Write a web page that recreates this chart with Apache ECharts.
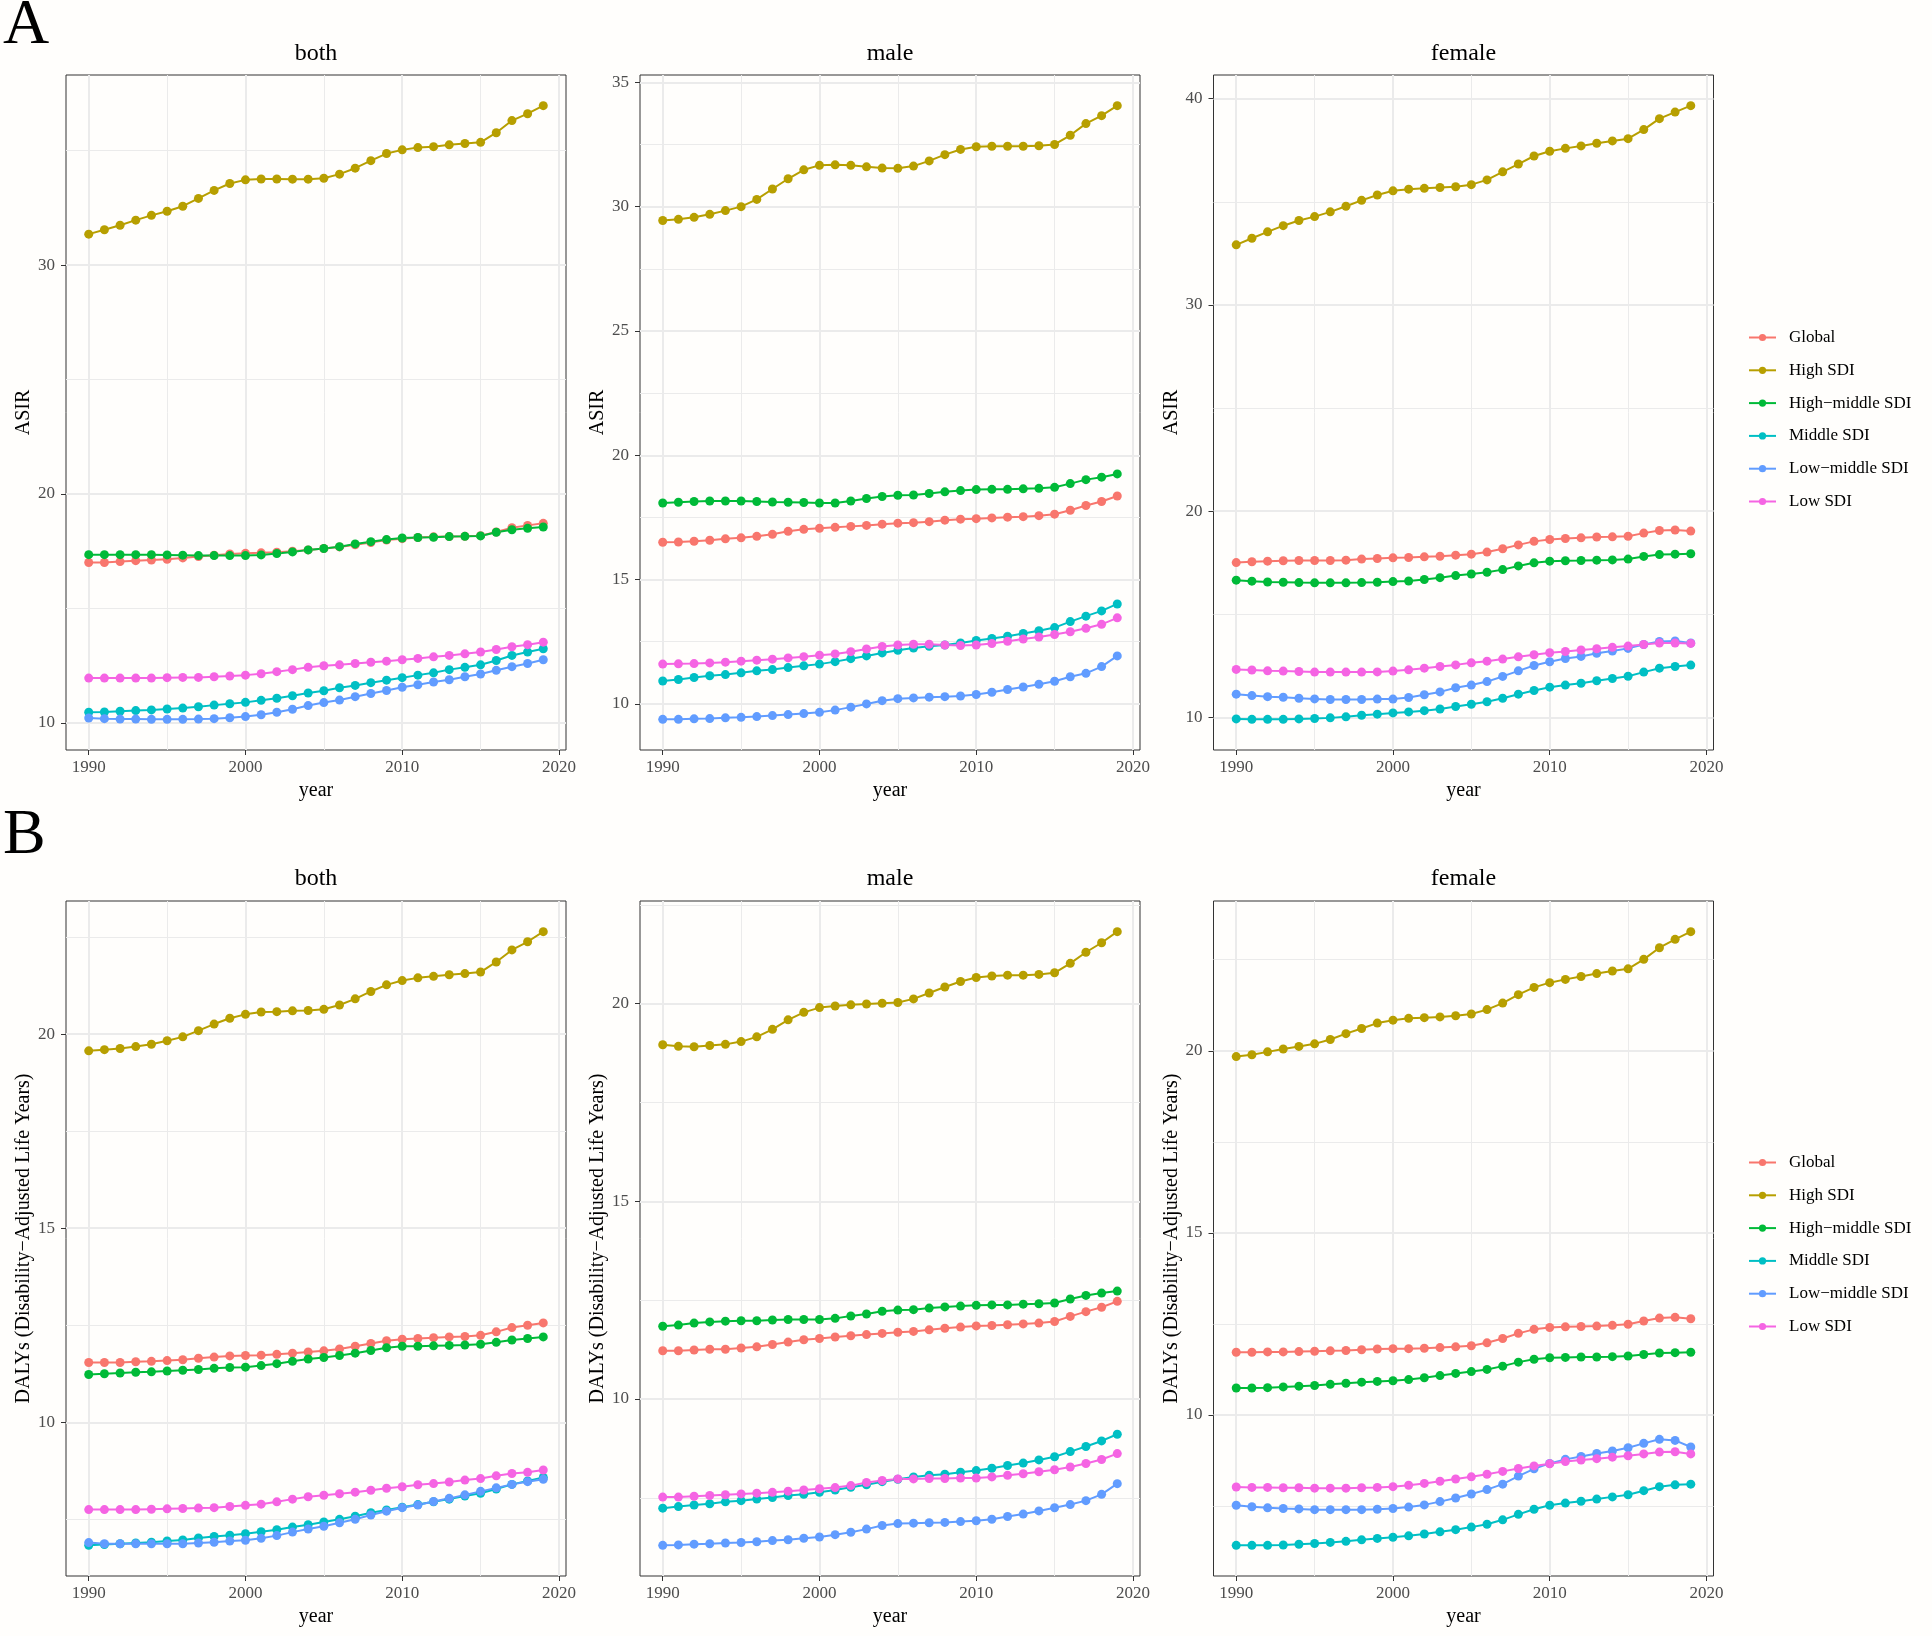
<!DOCTYPE html>
<html>
<head>
<meta charset="utf-8">
<script src="https://cdn.jsdelivr.net/npm/echarts@6/dist/echarts.min.js"></script>
<style>
html,body{margin:0;padding:0;background:#fffefc;}
#chart{width:1932px;height:1636px;}
</style>
</head>
<body>
<div id="chart"></div>
<script>
// ---------------- data ----------------
const years = [1990,1991,1992,1993,1994,1995,1996,1997,1998,1999,2000,2001,2002,2003,2004,2005,2006,2007,2008,2009,2010,2011,2012,2013,2014,2015,2016,2017,2018,2019];
const seriesNames = ['Global','High SDI','High\u2212middle SDI','Middle SDI','Low\u2212middle SDI','Low SDI'];
const panelTitles = ['both','male','female'];
const asirTitle = 'ASIR';
const dalyTitle = 'DALYs (Disability\u2212Adjusted Life Years)';
const xTicks = [1990,2000,2010,2020];
const xMinor = [1995,2005,2015];

// ASIR - both
const asirBothGlobal  = [17.01,17.01,17.05,17.09,17.12,17.15,17.21,17.27,17.33,17.38,17.41,17.43,17.46,17.50,17.56,17.62,17.69,17.78,17.88,17.99,18.05,18.10,18.13,18.14,18.15,18.18,18.34,18.53,18.63,18.72];
const asirBothHigh    = [31.35,31.54,31.74,31.96,32.17,32.35,32.57,32.91,33.26,33.56,33.72,33.76,33.76,33.75,33.75,33.79,33.97,34.23,34.56,34.87,35.03,35.13,35.17,35.25,35.31,35.36,35.78,36.31,36.61,36.96];
const asirBothHighMid = [17.35,17.35,17.35,17.35,17.35,17.34,17.33,17.31,17.31,17.31,17.31,17.34,17.40,17.47,17.56,17.62,17.70,17.82,17.92,18.01,18.08,18.10,18.11,18.14,18.15,18.17,18.33,18.44,18.50,18.56];
const asirBothMid     = [10.47,10.48,10.51,10.54,10.57,10.61,10.65,10.71,10.78,10.84,10.90,10.99,11.08,11.19,11.31,11.41,11.54,11.64,11.76,11.87,11.98,12.09,12.19,12.33,12.43,12.54,12.73,12.95,13.10,13.24];
const asirBothLowMid  = [10.22,10.19,10.17,10.17,10.16,10.16,10.16,10.17,10.19,10.23,10.28,10.36,10.47,10.60,10.76,10.89,11.00,11.15,11.29,11.42,11.56,11.67,11.79,11.89,12.02,12.14,12.30,12.46,12.60,12.76];
const asirBothLow     = [11.96,11.96,11.96,11.96,11.96,11.98,11.99,11.99,12.02,12.05,12.09,12.15,12.24,12.33,12.43,12.50,12.54,12.60,12.65,12.70,12.76,12.82,12.89,12.95,13.02,13.10,13.21,13.33,13.42,13.53];
// ASIR - male
const asirMaleGlobal  = [16.50,16.51,16.54,16.58,16.64,16.68,16.74,16.82,16.94,17.02,17.06,17.10,17.14,17.18,17.23,17.27,17.29,17.33,17.39,17.43,17.45,17.48,17.51,17.53,17.57,17.63,17.79,17.98,18.14,18.36];
const asirMaleHigh    = [29.44,29.49,29.57,29.69,29.84,30.00,30.29,30.71,31.12,31.48,31.66,31.68,31.66,31.60,31.55,31.54,31.63,31.84,32.09,32.30,32.41,32.43,32.43,32.43,32.45,32.50,32.87,33.34,33.66,34.06];
const asirMaleHighMid = [18.08,18.11,18.14,18.16,18.16,18.16,18.14,18.12,18.11,18.10,18.08,18.08,18.16,18.26,18.34,18.39,18.40,18.46,18.53,18.58,18.62,18.63,18.63,18.65,18.67,18.71,18.86,19.02,19.12,19.25];
const asirMaleMid     = [10.92,10.98,11.06,11.13,11.18,11.25,11.33,11.38,11.46,11.53,11.60,11.70,11.82,11.93,12.05,12.16,12.25,12.32,12.37,12.45,12.55,12.63,12.72,12.83,12.94,13.07,13.31,13.53,13.74,14.02];
const asirMaleLowMid  = [9.38,9.38,9.40,9.41,9.44,9.46,9.49,9.53,9.57,9.61,9.66,9.75,9.87,10.00,10.13,10.21,10.24,10.27,10.29,10.32,10.38,10.47,10.58,10.68,10.79,10.91,11.09,11.23,11.50,11.93];
const asirMaleLow     = [11.60,11.61,11.62,11.65,11.68,11.72,11.76,11.80,11.85,11.90,11.96,12.01,12.10,12.21,12.31,12.37,12.40,12.40,12.37,12.35,12.37,12.43,12.52,12.61,12.69,12.79,12.90,13.04,13.20,13.46];
// ASIR - female
const asirFemGlobal   = [17.50,17.54,17.57,17.59,17.60,17.60,17.60,17.62,17.67,17.70,17.73,17.75,17.78,17.81,17.86,17.91,18.01,18.17,18.36,18.53,18.62,18.67,18.70,18.74,18.75,18.78,18.93,19.06,19.08,19.03];
const asirFemHigh     = [32.91,33.23,33.54,33.84,34.09,34.28,34.51,34.78,35.07,35.33,35.53,35.61,35.65,35.69,35.73,35.83,36.06,36.45,36.83,37.22,37.45,37.59,37.71,37.84,37.95,38.06,38.50,39.03,39.35,39.66];
const asirFemHighMid  = [16.65,16.60,16.56,16.55,16.53,16.52,16.52,16.52,16.53,16.55,16.58,16.61,16.68,16.77,16.87,16.95,17.03,17.16,17.34,17.49,17.57,17.59,17.60,17.62,17.63,17.67,17.80,17.89,17.91,17.93];
const asirFemMid      = [9.92,9.90,9.90,9.90,9.92,9.94,9.97,10.02,10.10,10.15,10.21,10.26,10.32,10.40,10.52,10.63,10.75,10.92,11.12,11.30,11.46,11.56,11.65,11.77,11.88,11.99,12.19,12.38,12.46,12.53];
const asirFemLowMid   = [11.12,11.05,11.00,10.97,10.92,10.89,10.86,10.86,10.86,10.88,10.88,10.96,11.09,11.23,11.43,11.56,11.73,11.98,12.25,12.51,12.69,12.85,12.95,13.10,13.21,13.34,13.53,13.68,13.70,13.60];
const asirFemLow      = [12.32,12.29,12.25,12.24,12.22,12.19,12.19,12.19,12.19,12.20,12.24,12.30,12.38,12.46,12.54,12.64,12.72,12.82,12.93,13.03,13.13,13.19,13.26,13.32,13.39,13.45,13.53,13.60,13.60,13.58];

// DALYs - both
const dalyBothGlobal  = [11.54,11.54,11.54,11.56,11.57,11.59,11.61,11.65,11.68,11.71,11.72,11.73,11.75,11.78,11.81,11.84,11.89,11.96,12.03,12.10,12.14,12.16,12.18,12.20,12.21,12.24,12.33,12.44,12.50,12.56];
const dalyBothHigh    = [19.57,19.60,19.63,19.68,19.74,19.83,19.93,20.09,20.26,20.41,20.51,20.57,20.58,20.60,20.61,20.64,20.75,20.91,21.10,21.27,21.38,21.45,21.49,21.53,21.56,21.60,21.86,22.17,22.38,22.64];
const dalyBothHighMid = [11.23,11.25,11.27,11.29,11.30,11.32,11.34,11.36,11.39,11.41,11.42,11.46,11.51,11.57,11.63,11.67,11.72,11.78,11.85,11.92,11.96,11.96,11.97,11.98,11.99,12.01,12.06,12.12,12.16,12.20];
const dalyBothMid     = [6.83,6.85,6.87,6.89,6.91,6.94,6.97,7.02,7.06,7.09,7.13,7.18,7.23,7.30,7.36,7.43,7.50,7.58,7.67,7.74,7.81,7.88,7.95,8.02,8.10,8.17,8.28,8.40,8.49,8.58];
const dalyBothLowMid  = [6.90,6.87,6.87,6.87,6.87,6.87,6.87,6.89,6.91,6.94,6.96,7.01,7.08,7.17,7.25,7.32,7.41,7.50,7.61,7.71,7.80,7.87,7.96,8.04,8.13,8.22,8.31,8.40,8.47,8.53];
const dalyBothLow     = [7.75,7.75,7.75,7.75,7.76,7.77,7.78,7.79,7.80,7.83,7.86,7.89,7.95,8.02,8.08,8.12,8.16,8.20,8.25,8.30,8.34,8.39,8.42,8.46,8.51,8.55,8.62,8.68,8.71,8.77];
// DALYs - male
const dalyMaleGlobal  = [11.22,11.22,11.24,11.26,11.26,11.29,11.32,11.38,11.44,11.50,11.53,11.57,11.60,11.63,11.66,11.69,11.71,11.75,11.79,11.82,11.85,11.86,11.88,11.90,11.92,11.96,12.09,12.21,12.32,12.47];
const dalyMaleHigh    = [18.96,18.92,18.91,18.94,18.97,19.04,19.16,19.35,19.59,19.78,19.90,19.94,19.97,19.99,20.01,20.03,20.12,20.27,20.42,20.56,20.66,20.70,20.72,20.72,20.74,20.78,21.02,21.30,21.54,21.82];
const dalyMaleHighMid = [11.84,11.87,11.92,11.95,11.97,11.98,11.98,12.00,12.01,12.01,12.01,12.04,12.10,12.15,12.22,12.25,12.26,12.30,12.33,12.35,12.37,12.38,12.38,12.40,12.41,12.43,12.53,12.62,12.68,12.73];
const dalyMaleMid     = [7.24,7.28,7.32,7.35,7.40,7.43,7.47,7.51,7.56,7.59,7.64,7.70,7.77,7.83,7.91,7.97,8.03,8.07,8.10,8.15,8.19,8.25,8.32,8.38,8.46,8.54,8.67,8.80,8.94,9.11];
const dalyMaleLowMid  = [6.30,6.31,6.33,6.34,6.36,6.37,6.39,6.42,6.44,6.48,6.51,6.57,6.63,6.71,6.80,6.85,6.86,6.87,6.88,6.90,6.92,6.96,7.03,7.09,7.17,7.25,7.33,7.43,7.59,7.86];
const dalyMaleLow     = [7.52,7.52,7.54,7.56,7.58,7.60,7.62,7.64,7.67,7.70,7.73,7.76,7.81,7.89,7.94,7.98,7.98,7.99,7.99,8.00,8.00,8.03,8.07,8.11,8.16,8.21,8.28,8.37,8.47,8.62];
// DALYs - female
const dalyFemGlobal   = [11.72,11.72,11.73,11.73,11.74,11.75,11.76,11.77,11.79,11.81,11.82,11.82,11.83,11.85,11.87,11.90,11.98,12.10,12.24,12.35,12.40,12.42,12.43,12.44,12.46,12.49,12.58,12.66,12.68,12.64];
const dalyFemHigh     = [19.84,19.89,19.97,20.05,20.12,20.19,20.31,20.47,20.61,20.76,20.84,20.89,20.91,20.93,20.96,21.01,21.13,21.31,21.54,21.74,21.87,21.96,22.04,22.12,22.19,22.25,22.51,22.83,23.06,23.27];
const dalyFemHighMid  = [10.74,10.74,10.75,10.77,10.79,10.81,10.84,10.87,10.90,10.92,10.94,10.97,11.02,11.08,11.14,11.19,11.25,11.34,11.45,11.53,11.57,11.58,11.59,11.59,11.60,11.62,11.66,11.70,11.71,11.72];
const dalyFemMid      = [6.42,6.42,6.42,6.43,6.45,6.47,6.50,6.53,6.57,6.61,6.64,6.68,6.73,6.79,6.85,6.92,7.00,7.12,7.27,7.41,7.52,7.58,7.63,7.69,7.75,7.81,7.92,8.03,8.08,8.10];
const dalyFemLowMid   = [7.52,7.48,7.45,7.43,7.42,7.40,7.40,7.40,7.40,7.41,7.43,7.47,7.53,7.62,7.72,7.83,7.95,8.10,8.32,8.52,8.67,8.78,8.86,8.94,9.01,9.10,9.22,9.33,9.30,9.12];
const dalyFemLow      = [8.02,8.01,8.01,8.00,8.00,7.99,7.99,7.99,8.00,8.01,8.03,8.07,8.12,8.18,8.24,8.30,8.37,8.45,8.53,8.60,8.66,8.72,8.76,8.80,8.84,8.88,8.93,8.98,8.99,8.93];

// y tick labels per panel
const asirBothTicks = [10,20,30];   const asirBothMinor = [15,25,35];
const asirMaleTicks = [10,15,20,25,30,35]; const asirMaleMinor = [12.5,17.5,22.5,27.5,32.5];
const asirFemTicks  = [10,20,30,40]; const asirFemMinor = [15,25,35];
const dalyBothTicks = [10,15,20];   const dalyBothMinor = [7.5,12.5,17.5,22.5];
const dalyMaleTicks = [10,15,20];   const dalyMaleMinor = [7.5,12.5,17.5,22.5];
const dalyFemTicks  = [10,15,20];   const dalyFemMinor = [7.5,12.5,17.5,22.5];

// ---------------- layout & style ----------------
const colors = ['#F8766D','#B79F00','#00BA38','#00BFC4','#619CFF','#F564E3'];
const FONT = '"Liberation Serif","Times New Roman",serif';
const colLeft = [66, 640, 1213.5];
const plotW = 500;
const rowTop = [75, 901];
const plotH = 675;

const panels = [
  {row:0,col:0,yName:asirTitle,ticks:asirBothTicks,minor:asirBothMinor,data:[asirBothGlobal,asirBothHigh,asirBothHighMid,asirBothMid,asirBothLowMid,asirBothLow]},
  {row:0,col:1,yName:asirTitle,ticks:asirMaleTicks,minor:asirMaleMinor,data:[asirMaleGlobal,asirMaleHigh,asirMaleHighMid,asirMaleMid,asirMaleLowMid,asirMaleLow]},
  {row:0,col:2,yName:asirTitle,ticks:asirFemTicks,minor:asirFemMinor,data:[asirFemGlobal,asirFemHigh,asirFemHighMid,asirFemMid,asirFemLowMid,asirFemLow]},
  {row:1,col:0,yName:dalyTitle,ticks:dalyBothTicks,minor:dalyBothMinor,data:[dalyBothGlobal,dalyBothHigh,dalyBothHighMid,dalyBothMid,dalyBothLowMid,dalyBothLow]},
  {row:1,col:1,yName:dalyTitle,ticks:dalyMaleTicks,minor:dalyMaleMinor,data:[dalyMaleGlobal,dalyMaleHigh,dalyMaleHighMid,dalyMaleMid,dalyMaleLowMid,dalyMaleLow]},
  {row:1,col:2,yName:dalyTitle,ticks:dalyFemTicks,minor:dalyFemMinor,data:[dalyFemGlobal,dalyFemHigh,dalyFemHighMid,dalyFemMid,dalyFemLowMid,dalyFemLow]}
];

// ggplot-style 5% expansion
function expand(lo, hi){ const r = hi - lo; return [lo - 0.05*r, hi + 0.05*r]; }
const xRange = expand(years[0], years[years.length-1]);
const plainFmt = v => String(v);

const grid = [], xAxis = [], yAxis = [], series = [], graphic = [];
panels.forEach((p, i) => {
  grid.push({left: colLeft[p.col], top: rowTop[p.row], width: plotW, height: plotH,
             show: true, borderColor: '#333333', borderWidth: 1, backgroundColor: 'transparent',
             containLabel: false, outerBoundsMode: 'none'});
  let lo = Infinity, hi = -Infinity;
  p.data.forEach(arr => arr.forEach(v => { lo = Math.min(lo, v); hi = Math.max(hi, v); }));
  const yR = expand(lo, hi);
  // major x
  xAxis.push({gridIndex: i, type: 'value', min: xRange[0], max: xRange[1],
    name: 'year', nameLocation: 'middle', nameGap: 31,
    nameTextStyle: {fontFamily: FONT, fontSize: 20, color: '#000'},
    axisLine: {show: false},
    axisTick: {show: true, length: 5, customValues: xTicks, lineStyle: {color: '#333333', width: 1}},
    axisLabel: {show: true, customValues: xTicks, formatter: plainFmt, margin: 9, fontFamily: FONT, fontSize: 17, color: '#4D4D4D'},
    splitLine: {show: true, lineStyle: {color: '#EBEBEB', width: 2}}
  });
  // minor x
  xAxis.push({gridIndex: i, type: 'value', min: xRange[0], max: xRange[1],
    axisLine: {show: false}, axisLabel: {show: false},
    axisTick: {show: false, customValues: xMinor},
    splitLine: {show: true, lineStyle: {color: '#EBEBEB', width: 1}}
  });
  // major y
  yAxis.push({gridIndex: i, type: 'value', position: 'left', min: yR[0], max: yR[1],
    name: p.yName, nameLocation: 'middle', nameGap: 32, nameRotate: 90,
    nameTextStyle: {fontFamily: FONT, fontSize: 20, color: '#000'},
    axisLine: {show: false},
    axisTick: {show: true, length: 5, customValues: p.ticks, lineStyle: {color: '#333333', width: 1}},
    axisLabel: {show: true, customValues: p.ticks, formatter: plainFmt, margin: 11, fontFamily: FONT, fontSize: 17, color: '#4D4D4D'},
    splitLine: {show: true, lineStyle: {color: '#EBEBEB', width: 2}}
  });
  // minor y
  yAxis.push({gridIndex: i, type: 'value', position: 'left', min: yR[0], max: yR[1],
    axisLine: {show: false}, axisLabel: {show: false},
    axisTick: {show: false, customValues: p.minor},
    splitLine: {show: true, lineStyle: {color: '#EBEBEB', width: 1}}
  });
  p.data.forEach((arr, k) => {
    series.push({
      type: 'line', name: seriesNames[k], xAxisIndex: 2*i, yAxisIndex: 2*i,
      data: years.map((yr, j) => [yr, arr[j]]),
      symbol: 'circle', symbolSize: 9, showSymbol: true,
      itemStyle: {color: colors[k]}, lineStyle: {color: colors[k], width: 2},
      emphasis: {disabled: true}, z: 3
    });
  });
  // panel title
  graphic.push({type: 'text', x: colLeft[p.col] + plotW/2, y: p.row === 0 ? 54 : 879,
    style: {text: panelTitles[p.col], font: '24px ' + FONT, fill: '#000', align: 'center', verticalAlign: 'middle'}});
});
graphic.push({type: 'text', x: 3, y: 26, style: {text: 'A', font: '64px ' + FONT, fill: '#000', align: 'left', verticalAlign: 'middle'}});
graphic.push({type: 'text', x: 3, y: 836, style: {text: 'B', font: '64px ' + FONT, fill: '#000', align: 'left', verticalAlign: 'middle'}});

const legendBase = {orient: 'vertical', left: 1748, padding: 0, itemWidth: 27, itemHeight: 9, itemGap: 12.8,
  data: seriesNames, selectedMode: false,
  textStyle: {fontFamily: FONT, fontSize: 17, color: '#000', lineHeight: 20, padding: [0,0,0,8]}};

const chart = echarts.init(document.getElementById('chart'), null, {renderer: 'canvas'});
chart.setOption({
  backgroundColor: '#fffefc',
  animation: false,
  grid, xAxis, yAxis, series, graphic,
  legend: [Object.assign({top: 327.5}, legendBase), Object.assign({top: 1152.5}, legendBase)]
});
</script>
</body>
</html>
